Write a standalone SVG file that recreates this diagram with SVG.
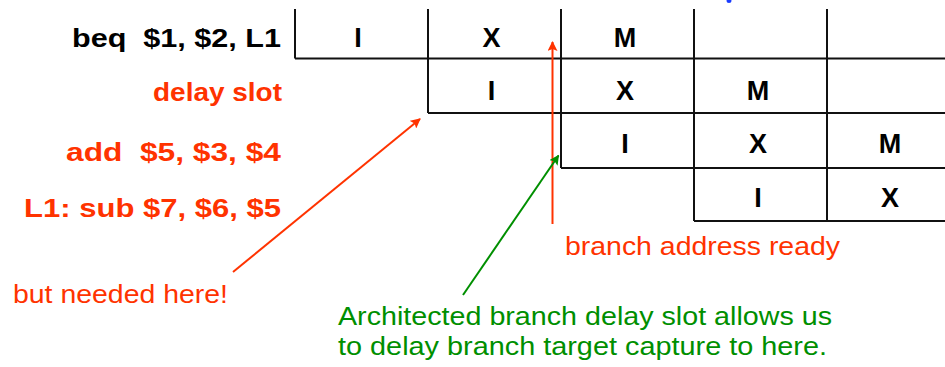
<svg xmlns="http://www.w3.org/2000/svg" width="945" height="367" viewBox="0 0 945 367">
<defs>
<style>
.grid{stroke:#111;stroke-width:2;fill:none}
.cell{font-family:"Liberation Sans",Arial,sans-serif;font-weight:bold;font-size:27px;fill:#000;text-anchor:middle}
.lbl{font-family:"Liberation Sans",Arial,sans-serif;font-weight:bold;font-size:26px;text-anchor:end;white-space:pre}
.note{font-family:"Liberation Sans",Arial,sans-serif;font-size:25px}
.red{fill:#FF3300}
.green{fill:#008F00}
.blk{fill:#000}
.ared{stroke:#FF3300;stroke-width:2;fill:none}
.agrn{stroke:#008F00;stroke-width:2;fill:none}
</style>
<marker id="hr" markerWidth="10" markerHeight="10" viewBox="0 0 10 10" refX="9" refY="5" orient="auto" markerUnits="userSpaceOnUse">
<path d="M0,0 L10,5 L0,10 L2,5 z" fill="#FF3300"/>
</marker>
<marker id="hg" markerWidth="10" markerHeight="10" viewBox="0 0 10 10" refX="9" refY="5" orient="auto" markerUnits="userSpaceOnUse">
<path d="M0,0 L10,5 L0,10 L2,5 z" fill="#008F00"/>
</marker>
</defs>
<rect width="945" height="367" fill="#fff"/>
<ellipse cx="729" cy="1" rx="2.5" ry="2" fill="#1a3cff"/>
<g id="grid">
<path class="grid" d="M295,9 V58.5 M428,9 V113 M561,9 V168 M694,9 V221 M827,9 V221 M295,58.5 H945 M428,113 H945 M561,168 H945 M694,221 H945"/>
</g>
<g id="row-beq">
<text class="lbl blk" x="281" y="47" textLength="209" lengthAdjust="spacingAndGlyphs" xml:space="preserve">beq  $1, $2, L1</text>
<text class="cell" x="358" y="47">I</text>
<text class="cell" x="491.5" y="47">X</text>
<text class="cell" x="625" y="47">M</text>
</g>
<g id="row-delay">
<text class="lbl red" x="282" y="101" textLength="129" lengthAdjust="spacingAndGlyphs">delay slot</text>
<text class="cell" x="491.5" y="100">I</text>
<text class="cell" x="625" y="100">X</text>
<text class="cell" x="758" y="100">M</text>
</g>
<g id="row-add">
<text class="lbl red" x="281" y="161" textLength="215" lengthAdjust="spacingAndGlyphs" xml:space="preserve">add  $5, $3, $4</text>
<text class="cell" x="625" y="153">I</text>
<text class="cell" x="758" y="153">X</text>
<text class="cell" x="890" y="153">M</text>
</g>
<g id="row-sub">
<text class="lbl red" x="281" y="217" textLength="257" lengthAdjust="spacingAndGlyphs">L1: sub $7, $6, $5</text>
<text class="cell" x="758" y="207">I</text>
<text class="cell" x="890" y="207">X</text>
</g>
<g id="connectors">
<line class="ared" x1="233" y1="272" x2="420" y2="119" marker-end="url(#hr)"/>
<line class="ared" x1="552.5" y1="224" x2="552.5" y2="42" marker-end="url(#hr)"/>
<line class="agrn" x1="463" y1="295" x2="558.5" y2="155.5" marker-end="url(#hg)"/>
</g>
<g id="note-needed">
<text class="note red" x="13" y="303" textLength="215" lengthAdjust="spacingAndGlyphs">but needed here!</text>
</g>
<g id="note-ready">
<text class="note red" x="565" y="255" textLength="275" lengthAdjust="spacingAndGlyphs">branch address ready</text>
</g>
<g id="note-slot">
<text class="note green" x="338" y="325" textLength="494" lengthAdjust="spacingAndGlyphs">Architected branch delay slot allows us</text>
<text class="note green" x="338" y="355" textLength="489" lengthAdjust="spacingAndGlyphs">to delay branch target capture to here.</text>
</g>
</svg>
